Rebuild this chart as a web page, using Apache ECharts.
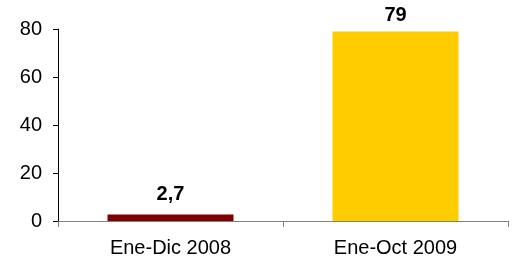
<!DOCTYPE html>
<html>
<head>
<meta charset="utf-8">
<script src="https://cdn.jsdelivr.net/npm/echarts@6/dist/echarts.min.js"></script>
<style>
  html, body { margin: 0; padding: 0; background: #fff; }
  #chart { width: 517px; height: 262px; }
</style>
</head>
<body>
<div id="chart"></div>
<script>
const categories = ['Ene-Dic 2008', 'Ene-Oct 2009'];
const values = [2.7, 79];
const barColors = ['#800000', '#FFCC00'];
const labelGap = [10, 6];

const chart = echarts.init(document.getElementById('chart'));

chart.setOption({
  animation: false,
  textStyle: { fontFamily: 'Liberation Sans, Arial, sans-serif' },
  grid: { left: 58, right: 9, top: 29, bottom: 41 },
  xAxis: {
    type: 'category',
    data: categories,
    boundaryGap: true,
    axisLine: { lineStyle: { color: '#808080', width: 1 } },
    axisTick: { show: true, alignWithLabel: false, length: 6, lineStyle: { color: '#808080' } },
    axisLabel: { color: '#000', fontSize: 20, margin: 17 }
  },
  yAxis: {
    type: 'value',
    min: 0,
    max: 80,
    interval: 20,
    splitLine: { show: false },
    axisLine: { show: true, lineStyle: { color: '#000', width: 1 } },
    axisTick: { show: true, length: 5, lineStyle: { color: '#000' } },
    axisLabel: { color: '#000', fontSize: 20, margin: 16 }
  },
  series: [{
    type: 'bar',
    barWidth: '56%',
    data: values.map((v, i) => ({
      value: v,
      itemStyle: { color: barColors[i] },
      label: { distance: labelGap[i] }
    })),
    label: {
      show: true,
      position: 'top',
      color: '#000',
      fontSize: 20,
      fontWeight: 'bold',
      formatter: p => String(p.value).replace('.', ',')
    }
  }]
});
</script>
</body>
</html>
